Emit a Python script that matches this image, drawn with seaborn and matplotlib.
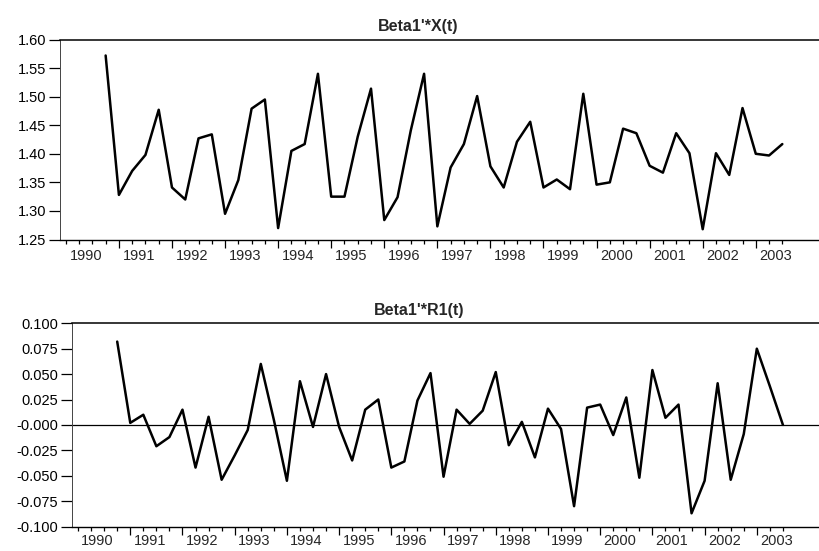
import numpy as np
import pandas as pd
import seaborn as sns
import matplotlib.pyplot as plt

# quarterly values, 1990Q4 .. 2003Q3
x_values = [1.572, 1.328, 1.370, 1.398, 1.477, 1.341, 1.320, 1.427, 1.434, 1.295,
            1.354, 1.479, 1.495, 1.270, 1.405, 1.417, 1.540, 1.325, 1.325, 1.430,
            1.514, 1.284, 1.324, 1.441, 1.540, 1.273, 1.376, 1.417, 1.501, 1.378,
            1.341, 1.421, 1.456, 1.341, 1.355, 1.338, 1.505, 1.346, 1.350, 1.444,
            1.436, 1.379, 1.367, 1.436, 1.401, 1.268, 1.401, 1.363, 1.480, 1.400,
            1.397, 1.417]
r1_values = [0.082, 0.002, 0.010, -0.021, -0.012, 0.015, -0.042, 0.008, -0.054, -0.030,
             -0.005, 0.060, 0.005, -0.055, 0.043, -0.002, 0.050, -0.002, -0.035, 0.015,
             0.025, -0.042, -0.036, 0.024, 0.051, -0.051, 0.015, 0.001, 0.014, 0.052,
             -0.020, 0.003, -0.032, 0.016, -0.004, -0.080, 0.017, 0.020, -0.010, 0.027,
             -0.052, 0.054, 0.007, 0.020, -0.087, -0.055, 0.041, -0.054, -0.009, 0.075,
             0.038, 0.000]
quarters = 1990.75 + 0.25 * np.arange(len(x_values))

years = list(range(1990, 2004))
year_labels = [str(y) for y in years]
top_yticks = [1.25, 1.30, 1.35, 1.40, 1.45, 1.50, 1.55, 1.60]
top_ylabels = ['1.25', '1.30', '1.35', '1.40', '1.45', '1.50', '1.55', '1.60']
bot_yticks = [-0.100, -0.075, -0.050, -0.025, 0.0, 0.025, 0.050, 0.075, 0.100]
bot_ylabels = ['-0.100', '-0.075', '-0.050', '-0.025', '-0.000', '0.025', '0.050', '0.075', '0.100']

df = pd.DataFrame({'t': quarters, 'x': x_values, 'r1': r1_values})

sns.set_style('ticks')
plt.rcParams['font.family'] = ['Liberation Sans', 'DejaVu Sans']

fig = plt.figure(figsize=(8.2, 5.51), dpi=100)
ax1 = fig.add_axes([60 / 820, 1 - 239.5 / 551, 760 / 820, 200 / 551])
ax2 = fig.add_axes([72.3 / 820, 1 - 526.5 / 551, 747.7 / 820, 203.2 / 551])

sns.lineplot(data=df, x='t', y='x', ax=ax1, color='black', lw=1.8)
sns.lineplot(data=df, x='t', y='r1', ax=ax2, color='black', lw=1.8)
ax2.axhline(0, color='black', lw=0.9, zorder=1)


def style_axis(ax, yticks, ylabels, title, tx, lpad):
    ax.set_xlim(1989.89, 2004.21)
    ax.set_ylim(yticks[0], yticks[-1])
    ax.set_yticks(yticks, labels=ylabels)
    ax.set_xlabel('')
    ax.set_ylabel('')
    # year boundaries long ticks, quarters short ticks
    ax.set_xticks(np.arange(1991, 2004), labels=[])
    ax.set_xticks(np.arange(1990, 2003.75, 0.25), minor=True)
    ax.tick_params(axis='x', which='major', length=6, width=0.9, color='black')
    ax.tick_params(axis='x', which='minor', length=3, width=0.9, color='black')
    ax.tick_params(axis='y', length=8, width=0.9, pad=2, labelsize=10.5, colors='black')
    sec = ax.secondary_xaxis('bottom')
    sec.set_xticks(np.array(years) + 0.375, labels=year_labels)
    sec.tick_params(length=0, pad=lpad, labelsize=10.5)
    sec.spines['bottom'].set_visible(False)
    ax.spines['right'].set_visible(False)
    ax.spines['top'].set_linewidth(1.1)
    ax.spines['bottom'].set_linewidth(1.0)
    ax.spines['left'].set_linewidth(0.7)
    ax.spines['left'].set_color('#444444')
    for s in ['top', 'bottom']:
        ax.spines[s].set_color('black')
    ax.set_title(title, fontsize=11.5, fontweight='bold', x=tx, pad=6)


style_axis(ax1, top_yticks, top_ylabels, "Beta1'*X(t)", (418 - 60) / 760, 7)
style_axis(ax2, bot_yticks, bot_ylabels, "Beta1'*R1(t)", (419 - 72.3) / 747.7, 5.5)

fig.savefig('out.png', dpi=100)
